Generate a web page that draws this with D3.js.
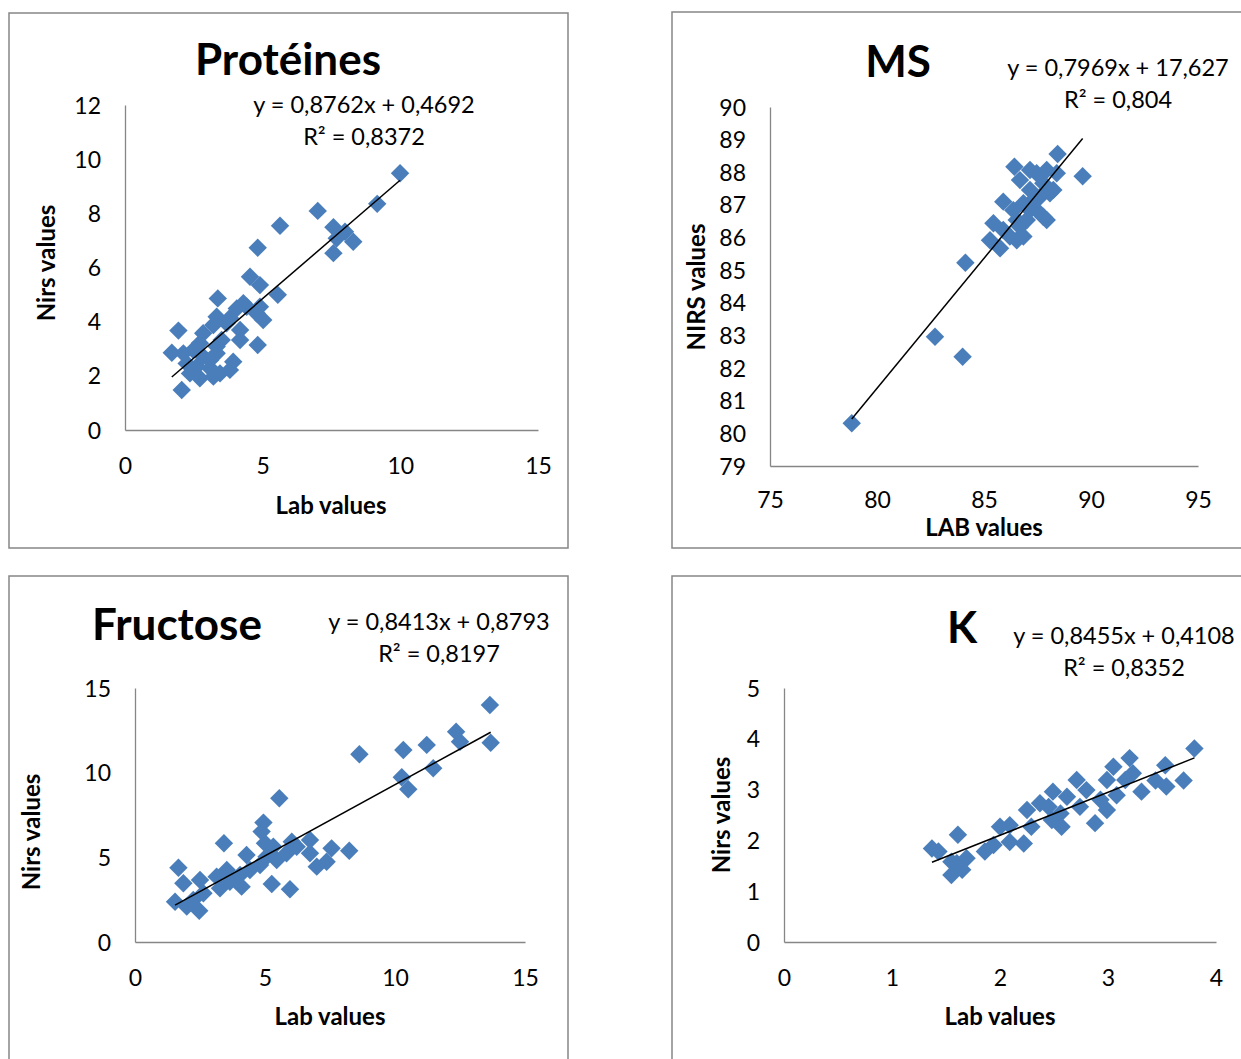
<!DOCTYPE html>
<html>
<head>
<meta charset="utf-8">
<script src="https://cdn.jsdelivr.net/npm/d3@7"></script>
<style>
  html, body { margin: 0; padding: 0; background: #fff; }
  svg { display: block; }
</style>
</head>
<body>
<svg id="chart" width="1241" height="1059"></svg>
<script>
// ---------------- DATA ----------------
const proteinesLab  = [9.99, 9.16, 7.0, 5.63, 4.82, 7.57, 7.99, 8.29, 7.69, 7.57, 4.54, 4.9, 5.55, 3.37, 4.3, 4.9, 5.02, 4.78, 4.06, 3.33, 3.69, 4.18, 4.18, 4.82, 1.94, 2.84, 3.21, 2.72, 3.33, 1.7, 2.12, 2.48, 2.84, 3.33, 2.24, 2.6, 3.09, 3.45, 3.93, 3.81, 2.72, 3.21, 2.06, 2.36, 3.51, 3.09, 4.42, 3.81];
const proteinesNirs = [9.48, 8.35, 8.09, 7.54, 6.73, 7.49, 7.32, 6.95, 7.08, 6.53, 5.66, 5.35, 4.99, 4.86, 4.68, 4.55, 4.06, 4.31, 4.49, 4.18, 3.94, 3.69, 3.32, 3.14, 3.67, 3.57, 3.88, 3.2, 3.08, 2.85, 2.83, 2.95, 2.71, 2.83, 2.46, 2.34, 2.28, 2.09, 2.52, 2.22, 1.91, 1.97, 1.48, 2.09, 3.32, 2.58, 4.55, 4.14];

const msLab  = [78.82, 82.71, 84.0, 84.13, 88.44, 89.61, 86.42, 86.68, 87.15, 87.46, 87.93, 87.77, 88.08, 87.3, 86.84, 85.9, 86.37, 87.15, 87.77, 87.93, 85.44, 85.9, 86.68, 85.28, 85.75, 86.53, 86.84, 87.46, 88.24, 88.4, 87.0, 86.21, 87.15, 87.62, 86.53];
const msNirs = [80.31, 82.96, 82.35, 85.23, 88.56, 87.88, 88.17, 87.76, 87.46, 87.97, 88.07, 87.66, 87.36, 87.15, 87.05, 87.1, 86.84, 86.84, 86.64, 86.54, 86.44, 86.23, 86.33, 85.92, 85.67, 85.92, 86.03, 86.84, 87.46, 87.97, 86.54, 86.03, 88.07, 87.25, 86.54];

const fructoseLab  = [13.65, 13.68, 12.35, 12.5, 11.22, 10.32, 11.47, 10.26, 10.51, 8.63, 5.55, 4.94, 4.87, 3.42, 4.29, 5.0, 6.03, 6.73, 7.56, 8.24, 6.73, 6.99, 7.37, 5.83, 5.45, 5.06, 4.81, 4.42, 4.04, 3.53, 3.14, 3.65, 4.1, 3.27, 5.26, 5.96, 1.67, 1.86, 2.5, 2.63, 2.24, 1.54, 1.99, 2.47, 6.22, 5.32];
const fructoseNirs = [14.0, 11.77, 12.42, 11.83, 11.64, 11.34, 10.26, 9.73, 9.02, 11.09, 8.49, 7.05, 6.52, 5.83, 5.14, 5.83, 5.92, 6.02, 5.53, 5.39, 5.24, 4.45, 4.74, 5.24, 4.84, 5.04, 4.55, 4.25, 3.96, 4.25, 3.86, 3.56, 3.27, 3.17, 3.43, 3.11, 4.39, 3.47, 3.66, 2.88, 2.48, 2.38, 2.09, 1.85, 5.63, 5.63];

const kLab  = [3.80, 3.70, 3.53, 3.54, 3.44, 3.2, 3.23, 3.31, 3.05, 3.08, 2.99, 2.93, 2.88, 2.71, 2.80, 2.74, 2.62, 2.49, 2.45, 2.56, 2.57, 2.48, 2.25, 2.29, 2.22, 2.09, 2.0, 2.09, 1.86, 1.94, 1.61, 1.37, 1.43, 1.55, 1.69, 1.55, 1.65, 1.6, 2.99, 2.37, 3.16];
const kNirs = [3.81, 3.18, 3.48, 3.06, 3.18, 3.62, 3.32, 2.96, 3.45, 2.89, 3.19, 2.8, 2.34, 3.19, 2.99, 2.66, 2.86, 2.96, 2.66, 2.53, 2.27, 2.4, 2.6, 2.27, 1.94, 1.97, 2.27, 2.3, 1.78, 1.91, 2.11, 1.84, 1.78, 1.58, 1.65, 1.32, 1.42, 1.55, 2.6, 2.73, 3.19];

const titles      = ["Protéines", "MS", "Fructose", "K"];
const xAxisTitles = ["Lab values", "LAB values", "Lab values", "Lab values"];
const yAxisTitles = ["Nirs values", "NIRS values", "Nirs values", "Nirs values"];
const slopes      = [0.8762, 0.7969, 0.8413, 0.8455];
const intercepts  = [0.4692, 17.627, 0.8793, 0.4108];
const eqLabels    = ["y = 0,8762x + 0,4692", "y = 0,7969x + 17,627", "y = 0,8413x + 0,8793", "y = 0,8455x + 0,4108"];
const r2Labels    = ["R² = 0,8372", "R² = 0,804", "R² = 0,8197", "R² = 0,8352"];

const proteinesXTicks = [0, 5, 10, 15];
const proteinesYTicks = [0, 2, 4, 6, 8, 10, 12];
const msXTicks = [75, 80, 85, 90, 95];
const msYTicks = [79, 80, 81, 82, 83, 84, 85, 86, 87, 88, 89, 90];
const fructoseXTicks = [0, 5, 10, 15];
const fructoseYTicks = [0, 5, 10, 15];
const kXTicks = [0, 1, 2, 3, 4];
const kYTicks = [0, 1, 2, 3, 4, 5];

// ---------------- LAYOUT ----------------
const FONT = "Lato, 'Open Sans', sans-serif";
const BLUE = "#4a7ebb";
const AXIS = "#868686";

const panels = [
  { lab: proteinesLab, nirs: proteinesNirs, xt: proteinesXTicks, yt: proteinesYTicks,
    frame: [9, 13, 559, 535], xr: [125, 538], yr: [430, 105],
    title: [288, 60], eq: [364, 105], xtitle: [331, 506], ytitle: [47, 263], xtickY: 466, ytickX: 101 },
  { lab: msLab, nirs: msNirs, xt: msXTicks, yt: msYTicks,
    frame: [672, 12, 620, 536], xr: [770, 1198], yr: [466, 107],
    title: [898, 62], eq: [1118, 68], xtitle: [984, 528], ytitle: [697, 287], xtickY: 500, ytickX: 746 },
  { lab: fructoseLab, nirs: fructoseNirs, xt: fructoseXTicks, yt: fructoseYTicks,
    frame: [9, 576, 559, 600], xr: [135, 525], yr: [942, 688],
    title: [177, 625], eq: [439, 622], xtitle: [330, 1017], ytitle: [32, 832], xtickY: 978, ytickX: 111 },
  { lab: kLab, nirs: kNirs, xt: kXTicks, yt: kYTicks,
    frame: [672, 576, 620, 600], xr: [784, 1216], yr: [942, 688],
    title: [962, 628], eq: [1124, 636], xtitle: [1000, 1017], ytitle: [722, 815], xtickY: 978, ytickX: 760 }
];

const svg = d3.select("#chart");
svg.append("rect").attr("width", 1241).attr("height", 1059).attr("fill", "#fff");

panels.forEach((p, i) => {
  const g = svg.append("g");
  g.append("rect")
    .attr("x", p.frame[0]).attr("y", p.frame[1])
    .attr("width", p.frame[2]).attr("height", p.frame[3])
    .attr("fill", "#fff").attr("stroke", AXIS).attr("stroke-width", 1.5);

  const x = d3.scaleLinear().domain([p.xt[0], p.xt[p.xt.length - 1]]).range(p.xr);
  const y = d3.scaleLinear().domain([p.yt[0], p.yt[p.yt.length - 1]]).range(p.yr);

  const xa = g.append("g").attr("transform", `translate(0,${p.yr[0]})`)
    .call(d3.axisBottom(x).tickValues(p.xt).tickSize(0).tickPadding(0).tickFormat(d3.format("d")));
  xa.select(".domain").attr("stroke", AXIS).attr("stroke-width", 1.3);
  xa.selectAll(".tick text")
    .attr("y", p.xtickY - p.yr[0]).attr("dy", "0.35em")
    .style("font-family", FONT).style("font-size", "23px").attr("fill", "#000");

  const ya = g.append("g").attr("transform", `translate(${p.xr[0]},0)`)
    .call(d3.axisLeft(y).tickValues(p.yt).tickSize(0).tickPadding(0).tickFormat(d3.format("d")));
  ya.select(".domain").attr("stroke", AXIS).attr("stroke-width", 1.3);
  ya.selectAll(".tick text")
    .attr("x", p.ytickX - p.xr[0]).attr("dy", "0.35em")
    .style("font-family", FONT).style("font-size", "23px").attr("fill", "#000");

  const pts = p.lab.map((v, k) => [v, p.nirs[k]]);
  const sym = d3.symbol(d3.symbolSquare, 170);
  g.append("g").selectAll("path").data(pts).join("path")
    .attr("d", sym)
    .attr("transform", d => `translate(${x(d[0])},${y(d[1])}) rotate(45)`)
    .attr("fill", BLUE);

  const [x0, x1] = d3.extent(p.lab);
  g.append("line")
    .attr("x1", x(x0)).attr("y1", y(slopes[i] * x0 + intercepts[i]))
    .attr("x2", x(x1)).attr("y2", y(slopes[i] * x1 + intercepts[i]))
    .attr("stroke", "#000").attr("stroke-width", 1.5);

  g.append("text").attr("x", p.title[0]).attr("y", p.title[1]).attr("dy", "0.35em")
    .attr("text-anchor", "middle").style("font-family", FONT).style("font-weight", "bold")
    .style("font-size", "44px").text(titles[i]);

  g.append("text").attr("x", p.eq[0]).attr("y", p.eq[1]).attr("dy", "0.35em")
    .attr("text-anchor", "middle").style("font-family", FONT).style("font-size", "23.5px").text(eqLabels[i]);
  g.append("text").attr("x", p.eq[0]).attr("y", p.eq[1] + 32).attr("dy", "0.35em")
    .attr("text-anchor", "middle").style("font-family", FONT).style("font-size", "23.5px").text(r2Labels[i]);

  g.append("text").attr("x", p.xtitle[0]).attr("y", p.xtitle[1]).attr("dy", "0.35em")
    .attr("text-anchor", "middle").style("font-family", FONT).style("font-weight", "bold")
    .style("font-size", "24px").text(xAxisTitles[i]);
  g.append("text").attr("transform", `translate(${p.ytitle[0]},${p.ytitle[1]}) rotate(-90)`)
    .attr("dy", "0.35em").attr("text-anchor", "middle").style("font-family", FONT)
    .style("font-weight", "bold").style("font-size", "24px").text(yAxisTitles[i]);
});
</script>
</body>
</html>
